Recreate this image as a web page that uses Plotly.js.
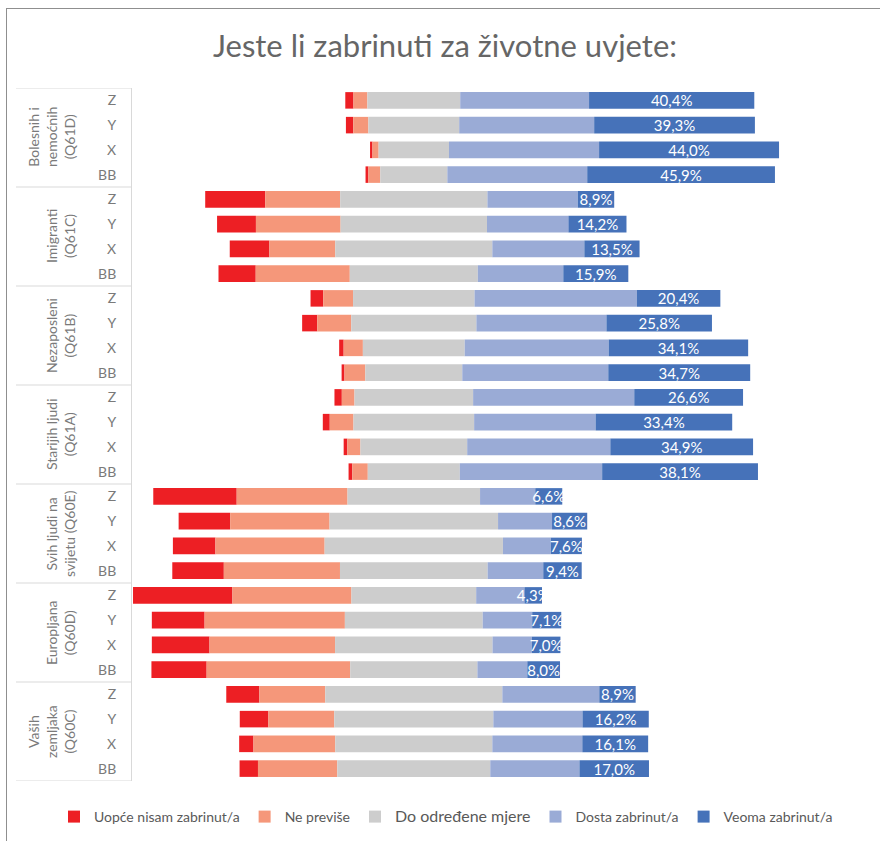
<!DOCTYPE html>
<html>
<head>
<meta charset="utf-8">
<script src="https://cdn.plot.ly/plotly-3.0.1.min.js"></script>
<style>
  html, body { margin: 0; padding: 0; background: #fff; overflow: hidden; }
  #chart { width: 880px; height: 841px; position: absolute; left: 0; top: 0; }
  #frame { position: absolute; left: 6px; top: 8px; width: 900px; height: 900px;
           border-left: 1px solid #8f8f8f; border-top: 1px solid #8f8f8f; pointer-events: none; }
</style>
</head>
<body>
<div id="chart"></div>
<div id="frame"></div>
<script>
// ---- data ----
const groups = [
  "Bolesnih i<br>nemoćnih<br>(Q61D)",
  "Imigranti<br>(Q61C)",
  "Nezaposleni<br>(Q61B)",
  "Starijih ljudi<br>(Q61A)",
  "Svih ljudi na<br>svijetu (Q60E)",
  "Europljana<br>(Q60D)",
  "Vaših<br>zemljaka<br>(Q60C)"
];
const subs = ["Z", "Y", "X", "BB"];

const seriesNames = ["Uopće nisam zabrinut/a", "Ne previše", "Do određene mjere", "Dosta zabrinut/a", "Veoma zabrinut/a"];

// rows ordered: group by group, Z, Y, X, BB
const uopce      = [2.0, 1.8, 0.6, 0.7,   14.7, 9.5, 9.7, 9.1,   3.1, 3.7, 1.1, 0.7,   1.8, 1.7, 0.9, 0.9,   20.4, 12.6, 10.4, 12.6,   24.3, 12.9, 14.1, 13.5,   8.1, 7.0, 3.5, 4.5];
const nePrevise  = [3.4, 3.7, 1.5, 2.9,   18.3, 20.7, 16.1, 23.0,   7.3, 8.3, 4.7, 5.1,   3.1, 5.8, 3.2, 3.8,   27.1, 24.3, 26.7, 28.4,   29.1, 34.3, 30.7, 35.1,   16.1, 16.1, 20.0, 19.4];
const doOdredene = [22.7, 22.2, 17.2, 16.4,   36.0, 35.8, 38.4, 31.3,   29.7, 30.6, 24.9, 23.7,   29.0, 29.5, 26.1, 22.5,   32.4, 41.2, 43.6, 36.1,   30.5, 33.7, 38.5, 31.1,   43.3, 38.9, 38.4, 37.4];
const dosta      = [31.5, 33.0, 36.7, 34.2,   22.1, 19.9, 22.5, 20.9,   39.7, 31.8, 35.2, 35.7,   39.4, 29.7, 35.0, 34.8,   13.5, 13.2, 11.7, 13.6,   11.8, 12.1, 9.6, 12.2,   23.7, 21.8, 22.0, 21.8];
const veoma      = [40.4, 39.3, 44.0, 45.9,   8.9, 14.2, 13.5, 15.9,   20.4, 25.8, 34.1, 34.7,   26.6, 33.4, 34.9, 38.1,   6.6, 8.6, 7.6, 9.4,   4.3, 7.1, 7.0, 8.0,   8.9, 16.2, 16.1, 17.0];

const colors = ["#ED1F24", "#F5977A", "#CDCDCD", "#9AABD6", "#4672B9"];

// ---- build ----
const ids = [];
const tickText = [];
groups.forEach((g, gi) => subs.forEach(s => { ids.push(gi + "|" + s); tickText.push(s); }));

const base0 = uopce.map((u, i) => -(u + nePrevise[i] + doOdredene[i] / 2));
const base1 = base0.map((b, i) => b + uopce[i]);
const base2 = doOdredene.map(d => -d / 2);
const base3 = doOdredene.map(d => d / 2);
const base4 = base3.map((b, i) => b + dosta[i]);

const vals = [uopce, nePrevise, doOdredene, dosta, veoma];
const bases = [base0, base1, base2, base3, base4];

const FONT = "Lato, 'Open Sans', sans-serif";

const traces = vals.map((v, k) => {
  const t = {
    type: "bar",
    orientation: "h",
    y: ids,
    x: v,
    base: bases[k],
    name: k === 2 ? '<span style="font-size:16px">' + seriesNames[k] + '</span>' : seriesNames[k],
    marker: { color: colors[k], line: { width: 0 } },
    hoverinfo: "skip"
  };
  if (k === 4) {
    t.text = v.map(x => x.toFixed(1).replace(".", ",") + "%");
    t.textposition = "inside";
    t.insidetextanchor = "middle";
    t.textangle = 0;
    t.constraintext = "none";
    t.insidetextfont = { color: "#ffffff", size: 15, family: FONT };
  } else {
    t.textposition = "none";
  }
  return t;
});

const plotLeft = 132, plotWidth = 728, plotTop = 88, plotHeight = 693;
const px2paper = p => (p - plotLeft) / plotWidth;

const shapes = [];
for (let gi = 0; gi <= groups.length; gi++) {
  shapes.push({
    type: "line", xref: "paper", yref: "y",
    x0: px2paper(16), x1: 0,
    y0: gi * subs.length - 0.5, y1: gi * subs.length - 0.5,
    line: { color: "#D9D9D9", width: 1 }
  });
}

const annotations = groups.map((g, gi) => ({
  text: g,
  xref: "paper", yref: "y",
  x: px2paper(80), y: gi * subs.length + (subs.length - 1) / 2,
  xanchor: "right", yanchor: "middle",
  textangle: -90,
  showarrow: false,
  align: "center",
  font: { size: 14, color: "#7a7a7a", family: FONT }
}));

const layout = {
  width: 880, height: 841,
  margin: { l: plotLeft, r: 880 - plotLeft - plotWidth, t: plotTop, b: 841 - plotTop - plotHeight, autoexpand: false },
  paper_bgcolor: "rgba(0,0,0,0)",
  plot_bgcolor: "rgba(0,0,0,0)",
  font: { family: FONT, color: "#595959", size: 14 },
  title: {
    text: "Jeste li zabrinuti za životne uvjete:",
    font: { size: 31, color: "#666666", family: FONT },
    xref: "container", yref: "container",
    x: 445 / 880, y: 1 - 46 / 841, xanchor: "center", yanchor: "middle"
  },
  barmode: "overlay",
  bargap: 0.333,
  showlegend: true,
  legend: {
    orientation: "h",
    xref: "paper", yref: "paper",
    x: px2paper(54), xanchor: "left",
    y: -(817 - (plotTop + plotHeight)) / plotHeight, yanchor: "middle",
    itemwidth: 30,
    traceorder: "normal",
    font: { size: 14, color: "#595959" }
  },
  xaxis: {
    range: [-68.9, -68.9 + plotWidth / 4.09],
    visible: false,
    fixedrange: true
  },
  yaxis: {
    type: "category",
    categoryorder: "array",
    categoryarray: ids,
    tickvals: ids,
    ticktext: tickText,
    range: [ids.length - 0.5, -0.5],
    showline: true,
    linecolor: "#D9D9D9",
    linewidth: 1,
    showgrid: false,
    zeroline: false,
    ticks: "outside",
    ticklen: 12,
    tickcolor: "rgba(0,0,0,0)",
    tickfont: { size: 14, color: "#7a7a7a" },
    fixedrange: true
  },
  shapes: shapes,
  annotations: annotations
};

Plotly.newPlot("chart", traces, layout, { displayModeBar: false, staticPlot: true });
</script>
</body>
</html>
